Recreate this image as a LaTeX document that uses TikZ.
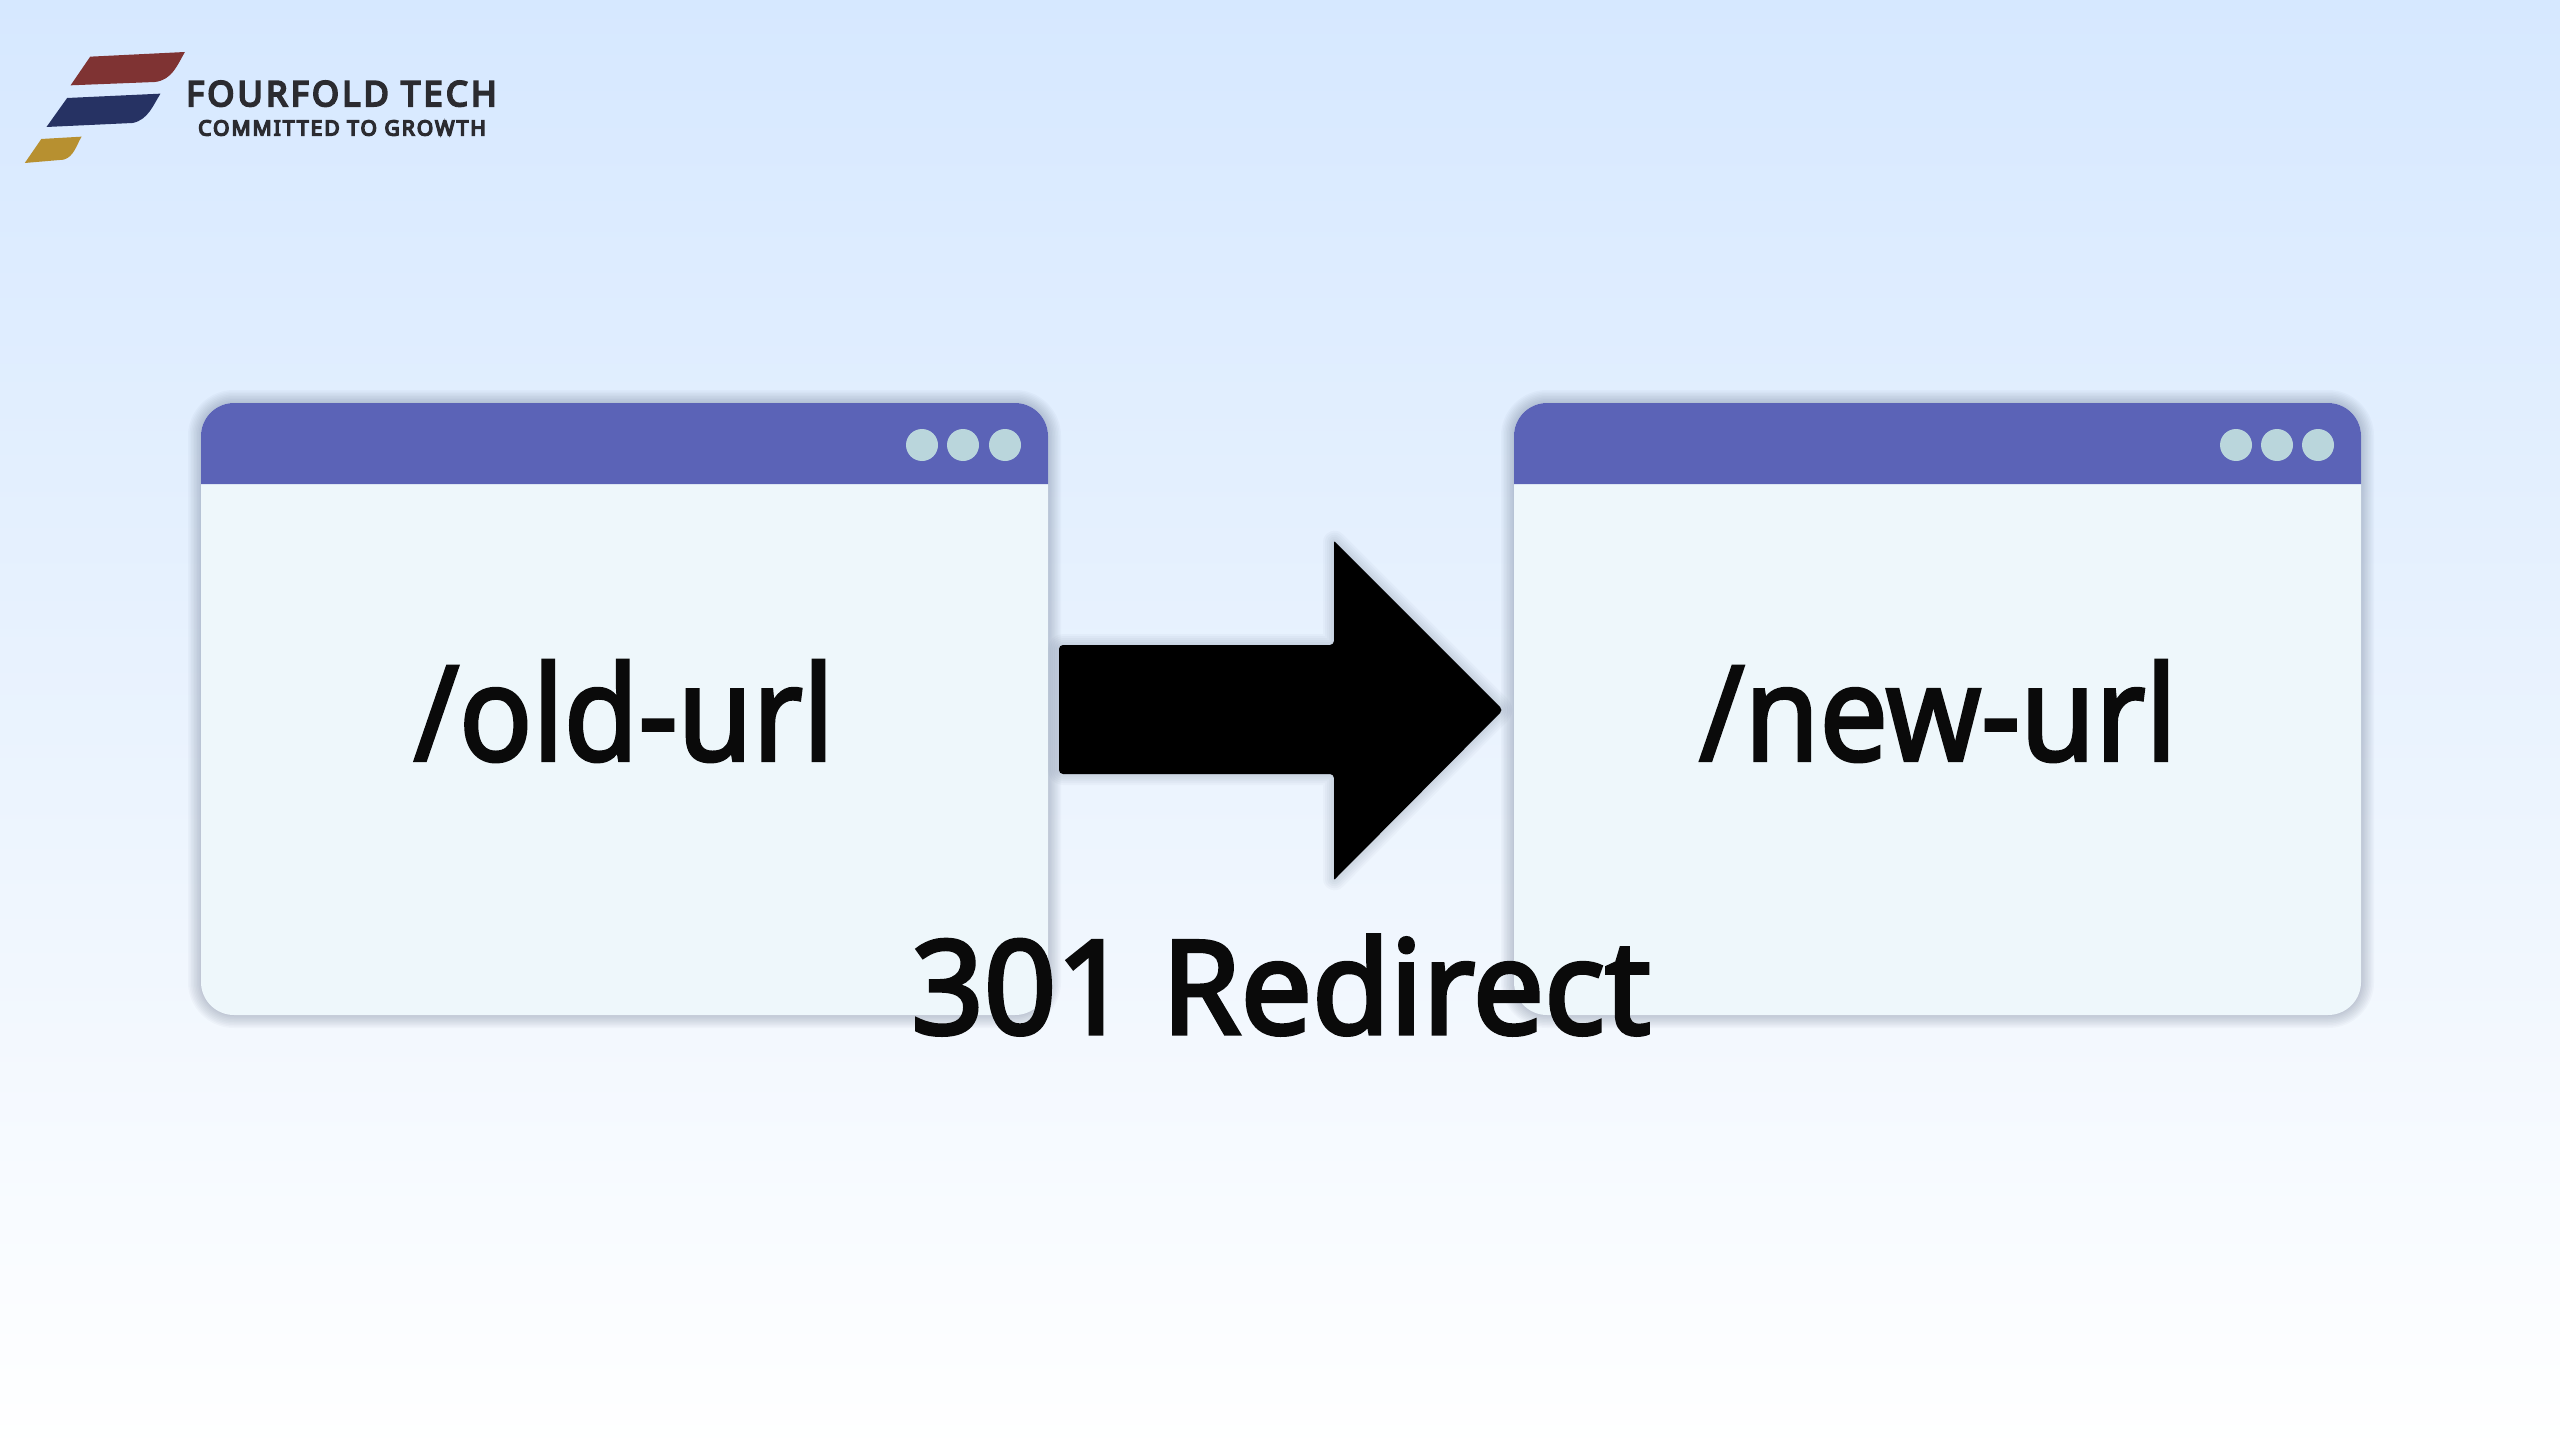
\documentclass[tikz,border=0pt]{standalone}
\usepackage{fontspec}
\setmainfont{Noto Sans}
\newfontfamily\urlfont[FakeBold=2.5]{Noto Sans}
\newfontfamily\capfont[FakeBold=3]{Noto Sans}
\newfontfamily\logofont[LetterSpace=9.5,FakeBold=6]{Noto Sans}
\newfontfamily\logosub[LetterSpace=9.7,FakeBold=7]{Noto Sans}
\definecolor{skytop}{RGB}{214,232,255}
\definecolor{skymid}{RGB}{234,243,254}
\definecolor{bodyfill}{RGB}{238,247,251}
\definecolor{barfill}{RGB}{91,99,183}
\definecolor{dotfill}{RGB}{186,214,220}
\definecolor{inkfill}{RGB}{10,10,10}
\definecolor{shadowink}{RGB}{60,75,105}
\definecolor{logored}{RGB}{127,51,51}
\definecolor{logonavy}{RGB}{38,50,99}
\definecolor{logogold}{RGB}{183,144,48}
\definecolor{logoink}{RGB}{43,43,48}
\tikzset{
  x=1pt,y=-1pt,
  winbody/.style={rectangle,rounded corners=33,fill=bodyfill,minimum width=847,minimum height=612,inner sep=0,outer sep=0},
  winshadow/.style={rectangle,rounded corners=33,draw=shadowink,draw opacity=0.03,fill=none,minimum width=847,minimum height=612,inner sep=0,outer sep=0},
  wintext/.style={font=\urlfont\fontsize{132}{132}\selectfont,text=inkfill,inner sep=0,xscale=0.92},
  dotnode/.style={circle,fill=dotfill,minimum size=32,inner sep=0,outer sep=0},
  captext/.style={font=\capfont\fontsize{130}{130}\selectfont,text=inkfill,inner sep=0,xscale=0.975},
}
\newcommand{\arrowpath}{(1059,645) [rounded corners=4] -- (1059,774) -- (1334,774) [rounded corners=1] -- (1334,880) [rounded corners=4] -- (1503,710) [rounded corners=1] -- (1334,541) [rounded corners=4] -- (1334,645) -- cycle}
\begin{document}
\begin{tikzpicture}
\useasboundingbox (0,0) rectangle (2560,1455);
\shade[top color=skytop,bottom color=white,middle color=skymid] (0,0) rectangle (2560,1455);
% logo
\begin{scope}[shift={(0,30)},xscale=0.34435,yscale=0.3333]
\fill[logored] (262,80) -- (537,66) .. controls (515,105) and (500,150) .. (450,156) -- (205,166) -- cycle;
\fill[logonavy] (195,204) -- (466,191) .. controls (445,225) and (430,270) .. (385,279) -- (135,291) -- cycle;
\fill[logogold] (120,327) -- (237,320) .. controls (222,345) and (215,380) .. (185,389) -- (72,399) -- cycle;
\end{scope}
\node[font=\logofont\fontsize{34.5}{34.5}\selectfont,text=logoink,inner sep=0,anchor=base west] (brand) at (186,106) {FOURFOLD TECH};
\node[font=\logosub\fontsize{21}{21}\selectfont,text=logoink,inner sep=0,anchor=base west] (tagline) at (198,135.5) {COMMITTED TO GROWTH};
% window shadows
\foreach \w in {2,5,...,26}{
  \node[winshadow,line width=\w] at (624.5,709) {};
  \node[winshadow,line width=\w] at (1937.5,709) {};
}
% windows
\node[winbody] (oldwin) at (624.5,709) {};
\node[winbody] (newwin) at (1937.5,709) {};
\foreach \n/\l in {oldbar/201,newbar/1514}{
  \fill[barfill] (\l,484) [rounded corners=33] -- (\l,403) -- (\l+847,403) [sharp corners] -- (\l+847,484) -- cycle;
}
\foreach \n/\c in {a/922,b/963,c/1005,d/2236,e/2277,f/2318}{
  \node[dotnode] (dot\n) at (\c,445) {};
}
\node[wintext] (oldurl) at (624,711) {/old-url};
\node[wintext] (newurl) at (1938,711) {/new-url};
% arrow
\foreach \w in {2,6,...,22}{
  \draw[shadowink,draw opacity=0.03,line width=\w,line join=round] \arrowpath;
}
\fill[black] \arrowpath;
% caption
\node[captext] (caption) at (1281,985) {301 Redirect};
\end{tikzpicture}
\end{document}
